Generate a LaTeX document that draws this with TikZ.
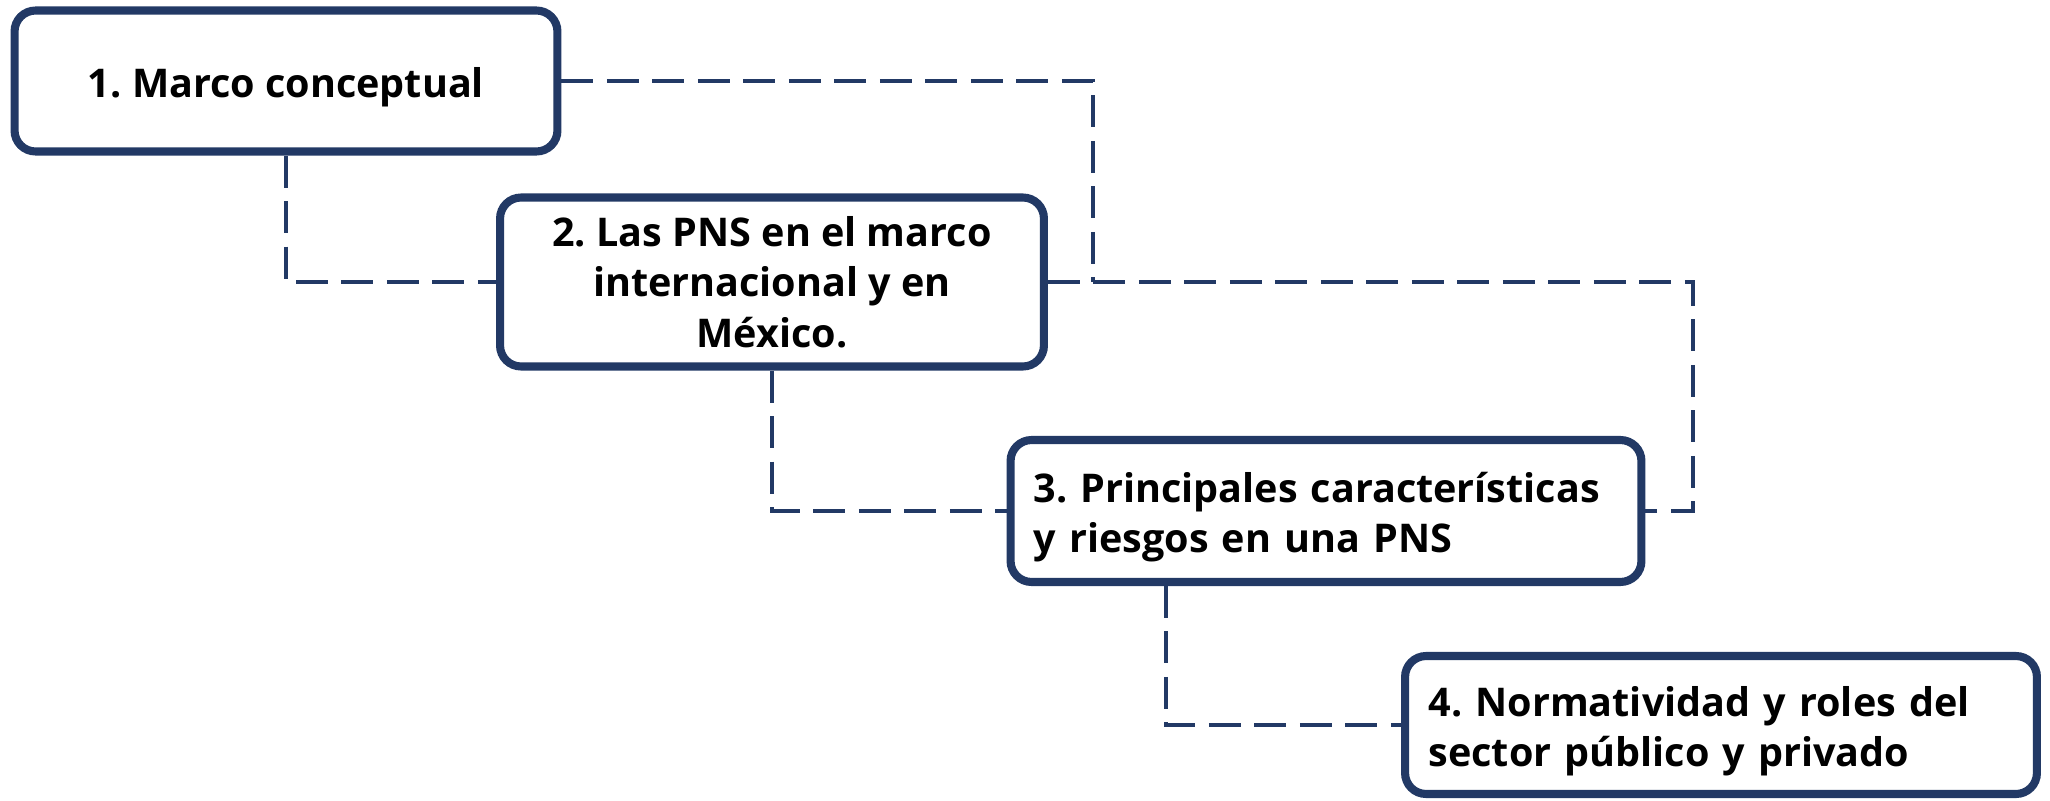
\documentclass[tikz,border=0pt]{standalone}
\usepackage{fontspec}
\setmainfont{Open Sans}
\usetikzlibrary{positioning}

\definecolor{navy}{RGB}{34,57,101}

\tikzset{
  topicbox/.style={draw=navy, line width=4.6pt, rounded corners=0.42cm, fill=white,
    inner sep=0pt, font=\fontsize{22.5}{28.6}\selectfont\bfseries\frenchspacing,
    execute at begin node={\rule{0pt}{0.86cm}}},
  link/.style={draw=navy, line width=2.2pt, dash pattern=on 0.64cm off 0.27cm}
}

\begin{document}
\begin{tikzpicture}[x=0.02cm,y=-0.02cm]

    % Canvas
    \useasboundingbox (0,0) rectangle (2050,801);

    % Topic boxes
    \node[topicbox, minimum width=10.86cm, minimum height=2.82cm, align=center]
        (marco) at (286,81) {1. Marco conceptual};
    \node[topicbox, minimum width=10.88cm, minimum height=3.38cm, align=center]
        (pns) at (772,282) {2. Las PNS en el marco\\ internacional y en\\ México.};
    \node[topicbox, minimum width=12.62cm, minimum height=2.84cm, align=left, text width=11.7cm]
        (riesgos) at (1326,511) {3. Principales características\\ y riesgos en una PNS};
    \node[topicbox, minimum width=12.64cm, minimum height=2.76cm, align=left, text width=11.7cm]
        (roles) at (1721,725) {4. Normatividad y roles del\\ sector público y privado};

    % Junction points of the links
    \coordinate (j1) at (1093,282);
    \coordinate (j2) at (1693,282);
    \coordinate (j3) at (1166,586);

    % Links between topics
    \draw[link] (marco.south) |- (pns.west);
    \draw[link] (marco.east) -| (j1);
    \draw[link] (pns.east) -- (j2) |- (riesgos.east);
    \draw[link] (pns.south) |- (riesgos.west);
    \draw[link] (j3) |- (roles.west);

\end{tikzpicture}
\end{document}
